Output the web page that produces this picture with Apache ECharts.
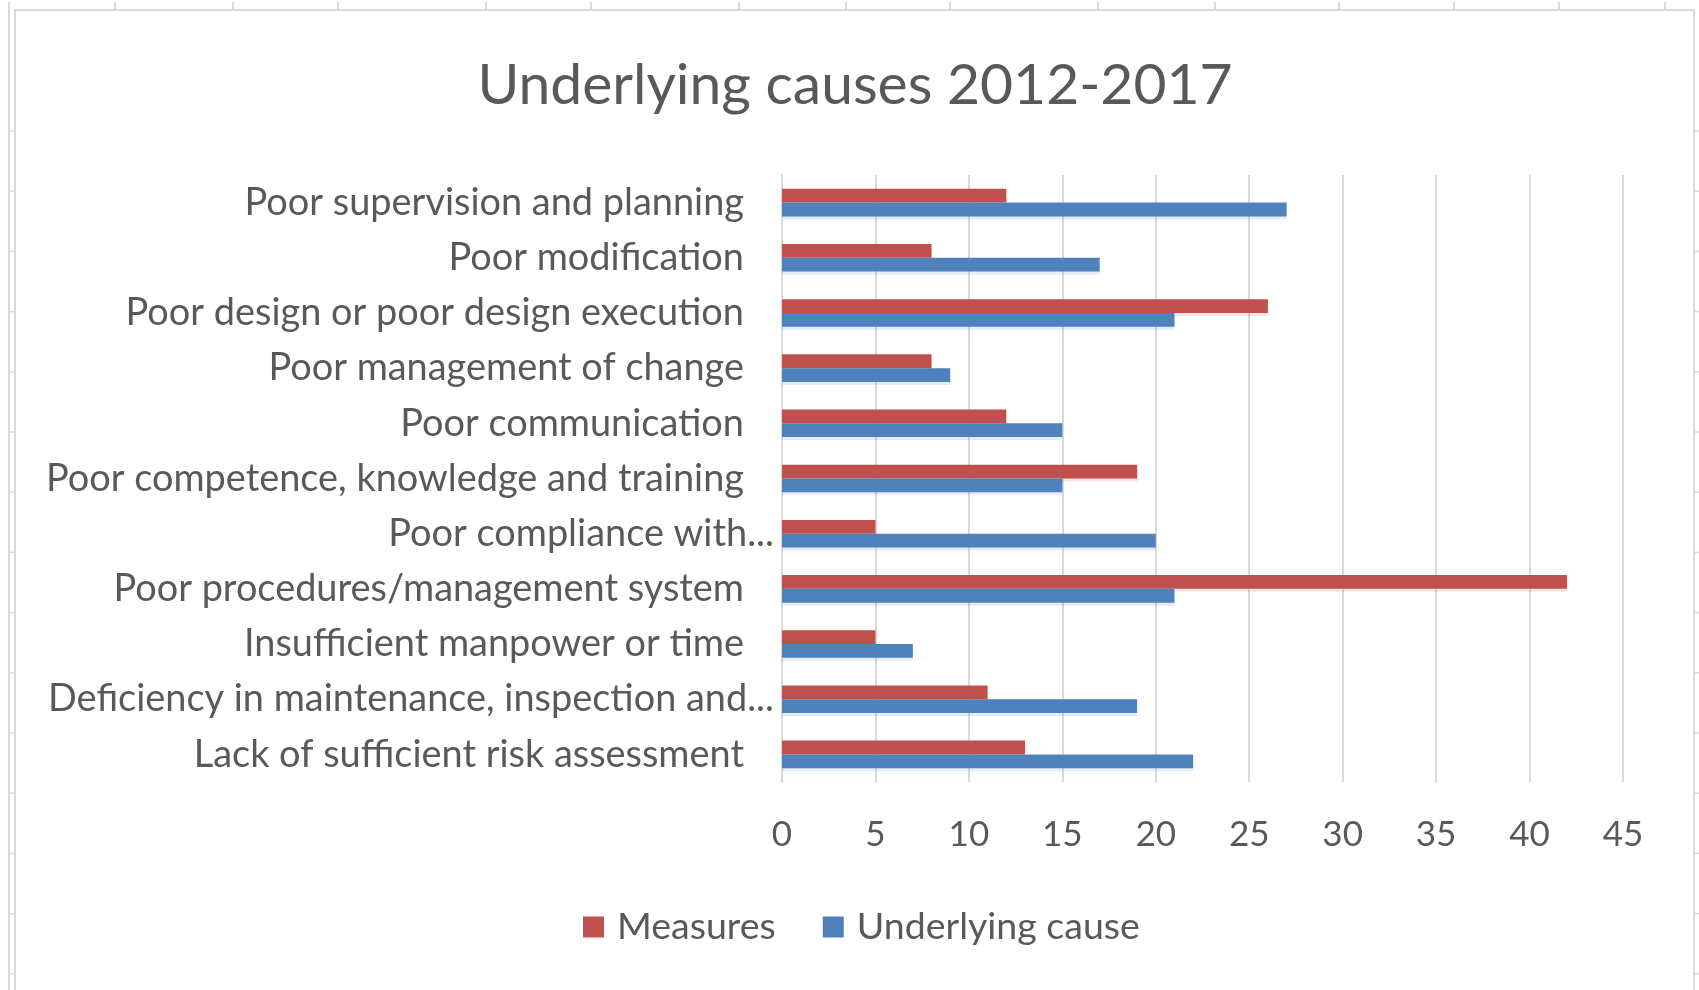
<!DOCTYPE html>
<html>
<head>
<meta charset="utf-8">
<script src="https://cdn.jsdelivr.net/npm/echarts@6/dist/echarts.min.js"></script>
<style>
  html, body { margin: 0; padding: 0; background: #fff; }
  #chart { width: 1699px; height: 990px; }
</style>
</head>
<body>
<div id="chart"></div>
<script>
// categories, top to bottom as in the picture
const causes = [
  'Poor supervision and planning',
  'Poor modification',
  'Poor design or poor design execution',
  'Poor management of change',
  'Poor communication',
  'Poor competence, knowledge and training',
  'Poor compliance with...',
  'Poor procedures/management system',
  'Insufficient manpower or time',
  'Deficiency in maintenance, inspection and...',
  'Lack of sufficient risk assessment'
]
const measures = [12, 8, 26, 8, 12, 19, 5, 42, 5, 11, 13]
const underlyingCause = [27, 17, 21, 9, 15, 15, 20, 21, 7, 19, 22]

const FONT = 'Lato'
const TEXT = '#595959'
const GRID = '#d9d9d9'

// spreadsheet cell borders peeking around the chart area
const sheetLines = []
;[115, 233, 338, 486, 591, 739, 846, 950, 1098, 1215, 1339, 1454, 1559, 1665].forEach(function (x) {
  sheetLines.push({ type: 'line', shape: { x1: x, y1: 2, x2: x, y2: 10 }, style: { stroke: GRID, lineWidth: 2 }, silent: true })
})
for (let y = 131; y < 990; y += 60.2) {
  sheetLines.push({ type: 'line', shape: { x1: 9, y1: y, x2: 15, y2: y }, style: { stroke: GRID, lineWidth: 1.5 }, silent: true })
  sheetLines.push({ type: 'line', shape: { x1: 1694, y1: y, x2: 1699, y2: y }, style: { stroke: GRID, lineWidth: 1.5 }, silent: true })
}
sheetLines.push({ type: 'line', shape: { x1: 9, y1: 2, x2: 9, y2: 990 }, style: { stroke: GRID, lineWidth: 2 }, silent: true })

const chart = echarts.init(document.getElementById('chart'), null, { renderer: 'canvas' })

const option = {
  backgroundColor: '#fff',
  animation: false,
  title: {
    text: 'Underlying causes 2012-2017',
    left: 850,
    textAlign: 'center',
    top: 52,
    textStyle: { fontFamily: FONT, fontSize: 57, fontWeight: 'normal', color: TEXT }
  },
  legend: {
    data: ['Measures', 'Underlying cause'],
    left: 578,
    top: 903,
    itemWidth: 21,
    itemHeight: 21,
    itemGap: 47,
    icon: 'rect',
    textStyle: { fontFamily: FONT, fontSize: 37.5, color: TEXT, padding: [0, 0, 0, 8] }
  },
  grid: { left: 782, right: 76, top: 175, bottom: 208, containLabel: false },
  xAxis: {
    type: 'value',
    min: 0,
    max: 45,
    interval: 5,
    axisLine: { show: false },
    axisTick: { show: false },
    splitLine: { lineStyle: { color: GRID, width: 2 } },
    axisLabel: { fontFamily: FONT, fontSize: 35, color: TEXT, margin: 35 }
  },
  yAxis: {
    type: 'category',
    data: causes,
    inverse: true,
    axisLine: { show: true, lineStyle: { color: GRID, width: 2 } },
    axisTick: { show: false },
    axisLabel: {
      fontFamily: FONT,
      fontSize: 37.9,
      color: TEXT,
      margin: 8,
      // truncated names sit a little further right, as Excel draws them
      formatter: function (v) {
        return v.endsWith('...') ? '{t|' + v + '}' : '{t|' + v + '}{s| }'
      },
      rich: {
        t: { fontFamily: FONT, fontSize: 37.9, color: TEXT },
        s: { width: 30, fontSize: 37.9 }
      }
    }
  },
  series: [
    {
      name: 'Measures',
      type: 'bar',
      data: measures,
      barGap: '0%',
      barCategoryGap: '50%',
      itemStyle: { color: '#C0504D', shadowColor: 'rgba(192,80,77,0.15)', shadowOffsetY: 3 }
    },
    {
      name: 'Underlying cause',
      type: 'bar',
      data: underlyingCause,
      barGap: '0%',
      barCategoryGap: '50%',
      itemStyle: { color: '#4F81BD', shadowColor: 'rgba(79,129,189,0.15)', shadowOffsetY: 3 }
    }
  ],
  graphic: [
    {
      type: 'rect',
      shape: { x: 15, y: 10, width: 1679, height: 1000 },
      style: { fill: 'transparent', stroke: GRID, lineWidth: 2 },
      silent: true
    }
  ].concat(sheetLines)
}

chart.setOption(option)
</script>
</body>
</html>
